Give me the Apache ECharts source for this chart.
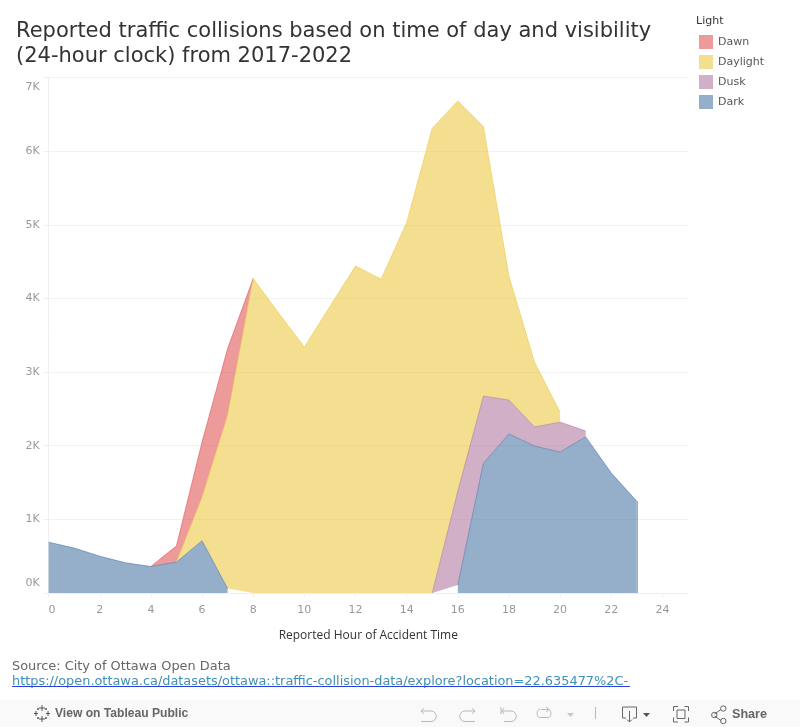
<!DOCTYPE html>
<html><head><meta charset="utf-8">
<style>html,body{margin:0;padding:0;background:#fff}#c{width:800px;height:727px}</style>
<script src="https://cdn.jsdelivr.net/npm/echarts@6/dist/echarts.min.js"></script>
</head><body><div id="c"></div>
<script>
const titleText = "Reported traffic collisions based on time of day and visibility\n(24-hour clock) from 2017-2022";
const hours = ["0","1","2","3","4","5","6","7","8","9","10","11","12","13","14","15","16","17","18","19","20","21","22","23","24","25"];
const dark     = [690,610,500,410,360,420,710,60,null,null,null,null,null,null,null,null,110,1760,2160,1995,1915,2120,1630,1245];
const dusk     = [null,null,null,null,null,null,null,null,null,null,null,null,null,null,null,0,1274,913,460,260,405,80,null,null];
const daylight = [null,null,null,null,null,0,590,2355,4270,3800,3340,3890,4440,4260,5030,6310,5296,3662,1680,880,135,null,null,null];
const dawn     = [null,null,null,null,0,220,750,905,0,null,null,null,null,null,null,null,null,null,null,null,null,null,null,null];
const legendOrder = ["Dawn","Daylight","Dusk","Dark"];
const colors = {Dawn:"#e15759",Daylight:"#edc948",Dusk:"#b07aa1",Dark:"#4e79a7"};
const font = "DejaVu Sans";

const mk = (name,vals) => ({
  name, type:"line", stack:"light", data:vals, symbol:"none", showSymbol:false, smooth:false,
  connectNulls:false, z:2, animation:false,
  itemStyle:{color:colors[name],opacity:0.6},
  lineStyle:{color:colors[name],width:1,opacity:0.6},
  areaStyle:{color:colors[name],opacity:0.6}
});
const darkSeries = mk("Dark",dark);
const lastDark = dark.length-1;
darkSeries.markLine = {silent:true,symbol:"none",animation:false,label:{show:false},
  lineStyle:{color:colors.Dark,width:1,type:"solid",opacity:0.6},
  data:[[{coord:[hours[lastDark],0]},{coord:[hours[lastDark],dark[lastDark]]}]]};

let iconCount = 0;
const icon = (pathData,opt={}) => {
  const name = "tbIcon"+(iconCount++);
  echarts.graphic.registerShape(name, echarts.graphic.extendPath(pathData));
  return {type:name,silent:true,
    style:{fill:opt.fill||"none",stroke:opt.fill?null:(opt.stroke||"#b9b9b9"),lineWidth:1}};
};

const option = {
  animation:false,
  backgroundColor:"#fff",
  title:{text:titleText,left:11,top:14.5,textStyle:{fontFamily:font,fontSize:21,fontWeight:"normal",color:"#333",lineHeight:25}},
  legend:{
    data:legendOrder, orient:"vertical", left:694, top:30, itemWidth:14, itemHeight:14, itemGap:6,
    icon:"rect", selectedMode:false, itemStyle:{opacity:0.6},
    textStyle:{fontFamily:font,fontSize:11,color:"#555",padding:[0,0,0,0]}
  },
  grid:{left:48.6,right:112,top:77.5,bottom:134},
  xAxis:{
    type:"category",data:hours,boundaryGap:false,
    name:"Reported Hour of Accident Time",nameLocation:"middle",nameGap:37,
    nameTextStyle:{fontFamily:"Open Sans",fontSize:12,color:"#333"},
    axisLine:{show:true,onZero:false,lineStyle:{color:"#efefef"}},
    axisTick:{show:true,length:4,interval:1,lineStyle:{color:"#efefef"}},
    axisLabel:{fontFamily:font,fontSize:11,color:"#999",margin:12,interval:1,alignMinLabel:"left",hideOverlap:false},
    splitLine:{show:false}
  },
  yAxis:{
    type:"value",min:0,max:7000,interval:1000,
    axisLine:{show:true,lineStyle:{color:"#efefef"}},
    axisTick:{show:true,length:5,lineStyle:{color:"#efefef"}},
    axisLabel:{fontFamily:font,fontSize:11,color:"#999",margin:9,lineHeight:19,
      formatter:v=>(v/1000)+"K",verticalAlignMaxLabel:"top",verticalAlignMinLabel:"bottom"},
    splitLine:{show:true,lineStyle:{color:"#f1f1f1"}}
  },
  series:[darkSeries,mk("Dusk",dusk),mk("Daylight",daylight),mk("Dawn",dawn)],
  graphic:[
    {type:"text",x:696,y:16,silent:true,style:{text:"Light",font:"11px 'DejaVu Sans'",fill:"#333"}},
    {type:"text",x:12,y:660,silent:true,style:{text:"Source: City of Ottawa Open Data",font:"12.9px 'DejaVu Sans'",fill:"#666"}},
    {type:"text",x:12,y:675,silent:true,style:{text:"https://open.ottawa.ca/datasets/ottawa::traffic-collision-data/explore?location=22.635477%2C-",font:"12.9px 'DejaVu Sans'",fill:"#3f90b8"}},
    {type:"rect",silent:true,shape:{x:12,y:686,width:618,height:1},style:{fill:"#2a3fe0"}},
    {type:"rect",silent:true,shape:{x:0,y:700,width:800,height:27},style:{fill:"#f9f9f9"}},
    {type:"text",x:55,y:708,silent:true,style:{text:"View on Tableau Public",font:"bold 12.1px 'Liberation Sans'",fill:"#666"}},
    {type:"text",x:732,y:708,silent:true,style:{text:"Share",font:"bold 12.6px 'Liberation Sans'",fill:"#666"}},
    icon("M42 705V711M39 708H45M42 716V722M39 719H45M36 711V716M34 713.5H38M48 711V716M46 713.5H50M38 708V710M37 709H39M46 708V710M45 709H47M38 717V719M37 718H39M46 717V719M45 718H47",{stroke:"#555"}),
    icon("M424 708L421 711L424 714M421 711H431C438 711 438 721.5 431 721.5H421"),
    icon("M472 708L475 711L472 714M475 711H465C458 711 458 721.5 465 721.5H475"),
    icon("M501 707V714M504 708L502 711L504 714M502 711H511C518 711 518 721.5 511 721.5H504"),
    icon("M541 709.5H548C552 709.5 552 717.5 548 717.5H540C536 717.5 536 709.5 540 709.5M546 707L549 709.5L546 712"),
    icon("M567 713H574L570.5 717Z",{fill:"#c8c8c8"}),
    icon("M595.5 707V719"),
    icon("M626 718H622.5V707H636.5V718H633M629.5 711V722M627 719.5L629.5 722L632 719.5",{stroke:"#666"}),
    icon("M643 713H650L646.5 717Z",{fill:"#555"}),
    icon("M673.5 711V706.5H678M684.5 706.5H688.5V711M688.5 717.5V722H684.5M678 722H673.5V717.5M677 710H685V718.5H677Z",{stroke:"#666"}),
    icon("M714.5 714L721 709.5M714.5 716L721 720.5M717 715a2.7 2.7 0 1 1 -5.4 0a2.7 2.7 0 1 1 5.4 0M726 708.5a2.7 2.7 0 1 1 -5.4 0a2.7 2.7 0 1 1 5.4 0M726 721a2.7 2.7 0 1 1 -5.4 0a2.7 2.7 0 1 1 5.4 0",{stroke:"#666"})
  ]
};
echarts.init(document.getElementById("c"),null,{renderer:"canvas"}).setOption(option);
</script></body></html>
